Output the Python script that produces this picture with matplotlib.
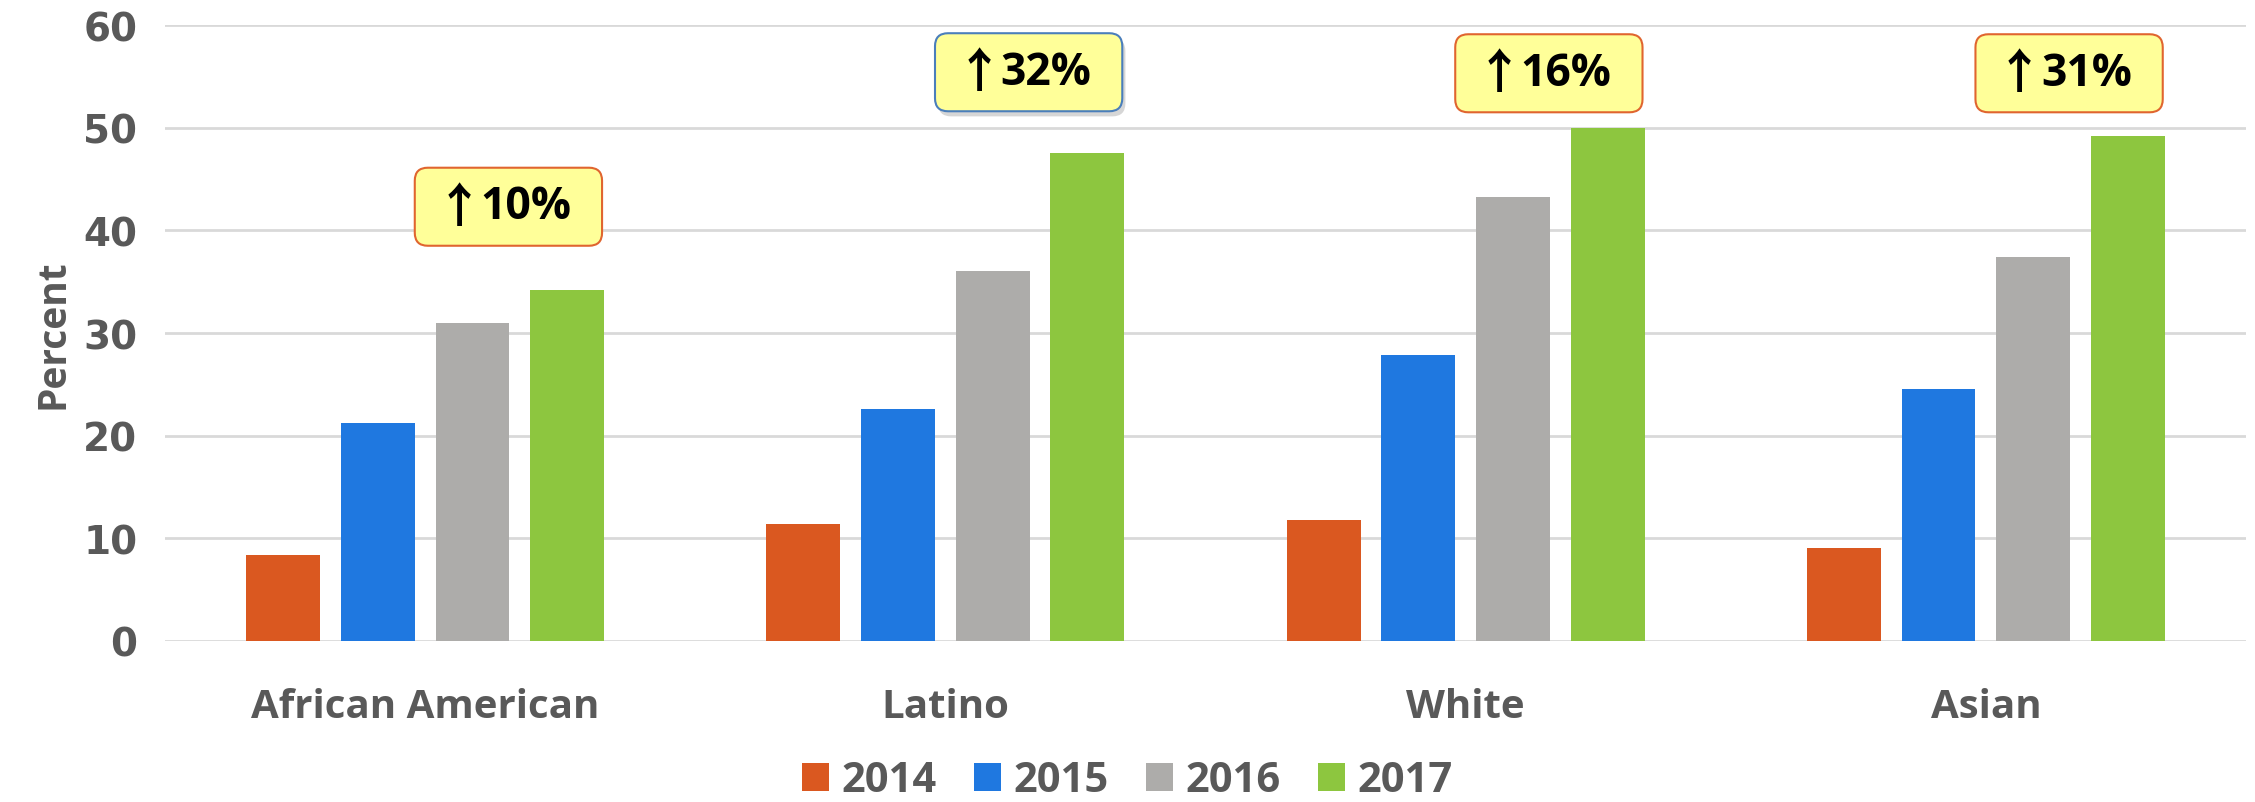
import matplotlib
matplotlib.use("Agg")
import matplotlib.pyplot as plt
import numpy as np
from matplotlib.patches import FancyBboxPatch

# data
groups = ["African American", "Latino", "White", "Asian"]
years = ["2014", "2015", "2016", "2017"]
v2014 = [8.4, 11.4, 11.8, 9.1]
v2015 = [21.2, 22.6, 27.9, 24.5]
v2016 = [31.0, 36.0, 43.2, 37.4]
v2017 = [34.2, 47.5, 50.0, 49.2]
notes = ["10%", "32%", "16%", "31%"]
note_y = [42.3, 55.4, 55.3, 55.3]

colors = ["#da5820", "#1f78e0", "#adacaa", "#8dc63f"]
note_edges = ["#e0652f", "#4a7ebb", "#e0652f", "#e0652f"]
grey = "#595959"

fig = plt.figure(figsize=(22.55, 8.03), dpi=100)
ax = fig.add_axes([0.0732, 0.2005, 0.9228, 0.7671])

x = np.arange(len(groups))
step = 0.182
w = 0.142
series = [v2014, v2015, v2016, v2017]
for i, vals in enumerate(series):
    ax.bar(x + (i - 1.5) * step, vals, w, color=colors[i], label=years[i], zorder=3)

ax.set_xlim(-0.5, 3.5)
ax.set_ylim(0, 60)
ax.set_yticks(range(0, 61, 10))
ax.grid(axis="y", color="#d9d9d9", linewidth=2, zorder=0)
for s in ax.spines.values():
    s.set_visible(False)
ax.tick_params(length=0)
ax.tick_params(axis="y", pad=20, labelsize=28, labelcolor=grey)
ax.tick_params(axis="x", pad=33, labelcolor=grey)
for t in ax.get_yticklabels():
    t.set_fontweight("bold")
    t.set_family("DejaVu Sans")
ax.set_xticks(x)
ax.set_xticklabels(groups, fontsize=29, fontweight="bold", family="Open Sans")
ax.set_ylabel("Percent", fontsize=28, fontweight="bold", color=grey, family="Open Sans", labelpad=8)

# callout boxes
bw, bh = 0.36, 7.6
asp = (1 / 10.27) / (1 / 520.0)
for i, t in enumerate(notes):
    cx = x[i] + 0.16
    cy = note_y[i]
    if i == 1:
        sh = FancyBboxPatch((cx - bw / 2 + 0.006, cy - bh / 2 - 0.5), bw, bh,
                            boxstyle="round,pad=0,rounding_size=0.025", mutation_aspect=asp,
                            fc="#bbbbbb", ec="none", alpha=0.6, zorder=4)
        ax.add_patch(sh)
    p = FancyBboxPatch((cx - bw / 2, cy - bh / 2), bw, bh,
                       boxstyle="round,pad=0,rounding_size=0.025", mutation_aspect=asp,
                       fc="#ffff99", ec=note_edges[i], lw=1.5, zorder=5)
    ax.add_patch(p)
    # arrow glyph and number drawn side by side
    ax.text(cx - 0.05, cy, "↑", ha="right", va="center", fontsize=34, fontweight="bold",
            family=["Noto Sans CJK JP", "DejaVu Sans"], color="black", zorder=6)
    ax.text(cx - 0.054, cy, t, ha="left", va="center", fontsize=32, fontweight="bold",
            family="Open Sans", color="black", zorder=6)

leg = fig.legend(loc="lower center", bbox_to_anchor=(0.5, -0.046), ncol=4, frameon=False,
                 prop={"family": "Open Sans", "weight": "bold", "size": 30},
                 handlelength=0.64, handleheight=0.64, handletextpad=0.3, columnspacing=0.9)
for t in leg.get_texts():
    t.set_color(grey)

fig.savefig("out.png", dpi=100)
